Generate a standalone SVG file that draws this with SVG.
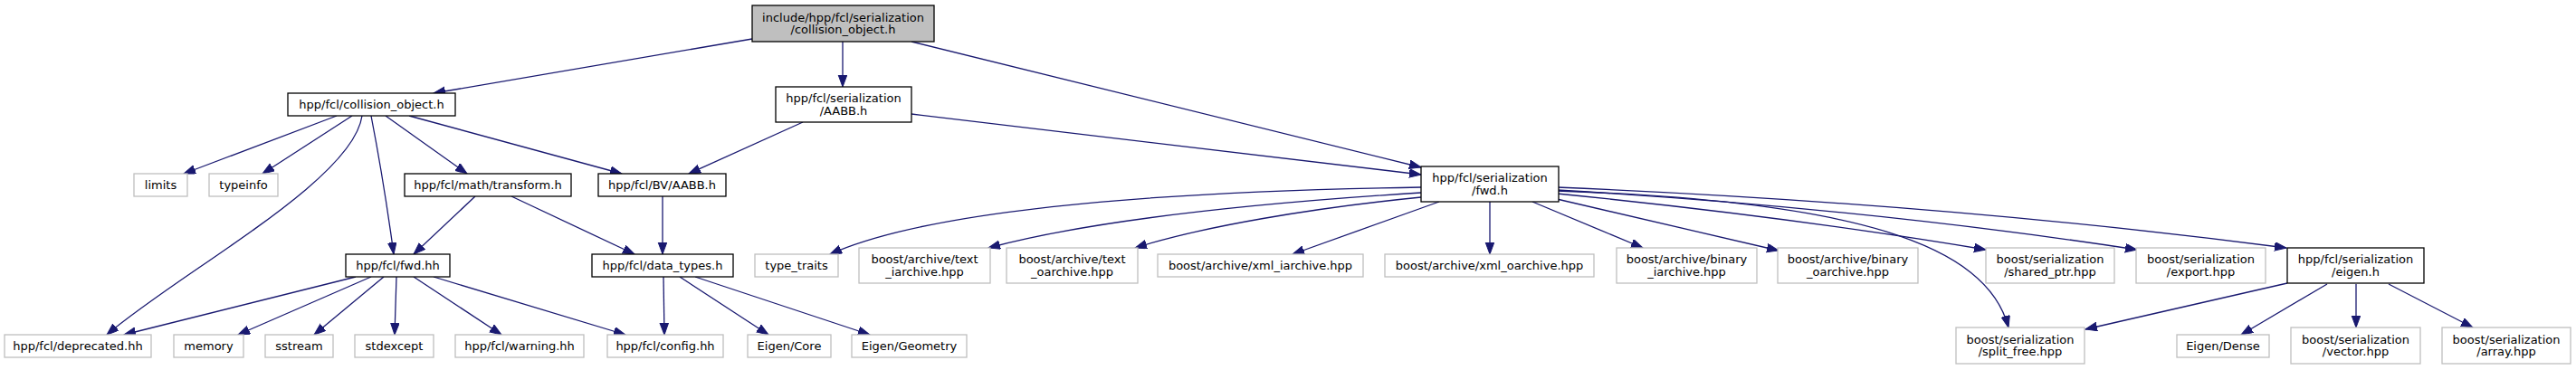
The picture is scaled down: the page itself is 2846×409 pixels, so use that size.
<svg xmlns="http://www.w3.org/2000/svg" width="2846" height="409" viewBox="0 0 2846 409">
<style>
.n rect{fill:#ffffff;stroke:#000000;stroke-width:1.3}
.x rect{fill:#ffffff;stroke:#bfbfbf;stroke-width:1.3}
.g rect{fill:#bfbfbf;stroke:#000000;stroke-width:1.3}
text{font-family:"DejaVu Sans","Liberation Sans",sans-serif;font-size:13px;fill:#000000;text-anchor:middle}
.e path{fill:none;stroke:#191970;stroke-width:1.3;marker-end:url(#ah)}
</style>
<defs>
<marker id="ah" markerUnits="userSpaceOnUse" markerWidth="14" markerHeight="11" refX="13" refY="4.8" orient="auto">
<path d="M0,0 L13,4.8 L0,9.6 z" fill="#191970" stroke="#191970" stroke-width="1"/>
</marker>
</defs>
<rect width="2846" height="409" fill="#ffffff"/>
<g class="e" id="edges">
<path d="M831,43 L479,103"/>
<path d="M931,46 L931,96"/>
<path d="M1007,46 L1570,185"/>
<path d="M1007,126 L1570,193"/>
<path d="M372,128 L203,192"/>
<path d="M389,128 L290,192"/>
<path d="M400,128 C390,200 200,300 118,370"/>
<path d="M410,128 Q424,200 435,281"/>
<path d="M426,128 L516,192"/>
<path d="M452,128 L687,192"/>
<path d="M887,135 L761,192"/>
<path d="M525,217 L457,281"/>
<path d="M565,217 L701,281"/>
<path d="M732,217 L732,281"/>
<path d="M393,306 L137,370"/>
<path d="M410,306 L263,370"/>
<path d="M424,306 L347,370"/>
<path d="M438,306 L436,370"/>
<path d="M457,306 L554,370"/>
<path d="M479,306 L691,370"/>
<path d="M733,306 L734,370"/>
<path d="M751,306 L849,370"/>
<path d="M768,306 L961,370"/>
<path d="M1570,207 C1250,212 1020,235 917,281"/>
<path d="M1570,213 C1380,225 1200,245 1092,274"/>
<path d="M1570,218 C1450,230 1330,250 1254,274"/>
<path d="M1590,223 L1428,281"/>
<path d="M1646,223 L1646,281"/>
<path d="M1693,223 L1815,274"/>
<path d="M1720,220 L1965,277"/>
<path d="M1720,214 Q1980,240 2194,276"/>
<path d="M1720,210 Q2060,230 2361,276"/>
<path d="M1720,207 Q2150,225 2526,274"/>
<path d="M1720,211 C2050,222 2195,270 2219,362"/>
<path d="M2527,313 L2304,364"/>
<path d="M2571,314 L2476,370"/>
<path d="M2603,314 L2603,362"/>
<path d="M2639,314 L2732,362"/>
</g>
<g id="node0" class="g"><rect x="831" y="6" width="201" height="40"/><text x="931.5" y="23.5">include/hpp/fcl/serialization</text><text x="931.5" y="37">/collision_object.h</text></g>
<g id="node1" class="n"><rect x="318" y="103" width="185" height="25"/><text x="410.5" y="120">hpp/fcl/collision_object.h</text></g>
<g id="node2" class="n"><rect x="857" y="96" width="150" height="39"/><text x="932" y="113">hpp/fcl/serialization</text><text x="932" y="126.5">/AABB.h</text></g>
<g id="node3" class="x"><rect x="148" y="192" width="59" height="25"/><text x="177.5" y="209">limits</text></g>
<g id="node4" class="x"><rect x="231" y="192" width="76" height="25"/><text x="269" y="209">typeinfo</text></g>
<g id="node5" class="n"><rect x="447" y="192" width="184" height="25"/><text x="539" y="209">hpp/fcl/math/transform.h</text></g>
<g id="node6" class="n"><rect x="661" y="192" width="141" height="25"/><text x="731.5" y="209">hpp/fcl/BV/AABB.h</text></g>
<g id="node7" class="n"><rect x="1570" y="184" width="152" height="39"/><text x="1646" y="201">hpp/fcl/serialization</text><text x="1646" y="214.5">/fwd.h</text></g>
<g id="node8" class="n"><rect x="382" y="281" width="115" height="25"/><text x="439.5" y="298">hpp/fcl/fwd.hh</text></g>
<g id="node9" class="n"><rect x="654" y="281" width="156" height="25"/><text x="732" y="298">hpp/fcl/data_types.h</text></g>
<g id="node10" class="x"><rect x="834" y="281" width="92" height="25"/><text x="880" y="298">type_traits</text></g>
<g id="node11" class="x"><rect x="949" y="274" width="145" height="39"/><text x="1021.5" y="291">boost/archive/text</text><text x="1021.5" y="304.5">_iarchive.hpp</text></g>
<g id="node12" class="x"><rect x="1112" y="274" width="145" height="39"/><text x="1184.5" y="291">boost/archive/text</text><text x="1184.5" y="304.5">_oarchive.hpp</text></g>
<g id="node13" class="x"><rect x="1279" y="281" width="227" height="25"/><text x="1392.5" y="298">boost/archive/xml_iarchive.hpp</text></g>
<g id="node14" class="x"><rect x="1530" y="281" width="231" height="25"/><text x="1645.5" y="298">boost/archive/xml_oarchive.hpp</text></g>
<g id="node15" class="x"><rect x="1786" y="274" width="155" height="39"/><text x="1863.5" y="291">boost/archive/binary</text><text x="1863.5" y="304.5">_iarchive.hpp</text></g>
<g id="node16" class="x"><rect x="1964" y="274" width="155" height="39"/><text x="2041.5" y="291">boost/archive/binary</text><text x="2041.5" y="304.5">_oarchive.hpp</text></g>
<g id="node17" class="x"><rect x="2194" y="274" width="142" height="39"/><text x="2265" y="291">boost/serialization</text><text x="2265" y="304.5">/shared_ptr.hpp</text></g>
<g id="node18" class="x"><rect x="2360" y="274" width="143" height="39"/><text x="2431.5" y="291">boost/serialization</text><text x="2431.5" y="304.5">/export.hpp</text></g>
<g id="node19" class="n"><rect x="2527" y="274" width="151" height="39"/><text x="2602.5" y="291">hpp/fcl/serialization</text><text x="2602.5" y="304.5">/eigen.h</text></g>
<g id="node20" class="x"><rect x="5" y="370" width="162" height="25"/><text x="86" y="387">hpp/fcl/deprecated.hh</text></g>
<g id="node21" class="x"><rect x="192" y="370" width="77" height="25"/><text x="230.5" y="387">memory</text></g>
<g id="node22" class="x"><rect x="293" y="370" width="75" height="25"/><text x="330.5" y="387">sstream</text></g>
<g id="node23" class="x"><rect x="392" y="370" width="87" height="25"/><text x="435.5" y="387">stdexcept</text></g>
<g id="node24" class="x"><rect x="503" y="370" width="142" height="25"/><text x="574" y="387">hpp/fcl/warning.hh</text></g>
<g id="node25" class="x"><rect x="671" y="370" width="128" height="25"/><text x="735" y="387">hpp/fcl/config.hh</text></g>
<g id="node26" class="x"><rect x="826" y="370" width="92" height="25"/><text x="872" y="387">Eigen/Core</text></g>
<g id="node27" class="x"><rect x="941" y="370" width="127" height="25"/><text x="1004.5" y="387">Eigen/Geometry</text></g>
<g id="node28" class="x"><rect x="2161" y="362" width="142" height="40"/><text x="2232" y="379.5">boost/serialization</text><text x="2232" y="393">/split_free.hpp</text></g>
<g id="node29" class="x"><rect x="2405" y="370" width="102" height="25"/><text x="2456" y="387">Eigen/Dense</text></g>
<g id="node30" class="x"><rect x="2531" y="362" width="143" height="40"/><text x="2602.5" y="379.5">boost/serialization</text><text x="2602.5" y="393">/vector.hpp</text></g>
<g id="node31" class="x"><rect x="2698" y="362" width="142" height="40"/><text x="2769" y="379.5">boost/serialization</text><text x="2769" y="393">/array.hpp</text></g>
</svg>
